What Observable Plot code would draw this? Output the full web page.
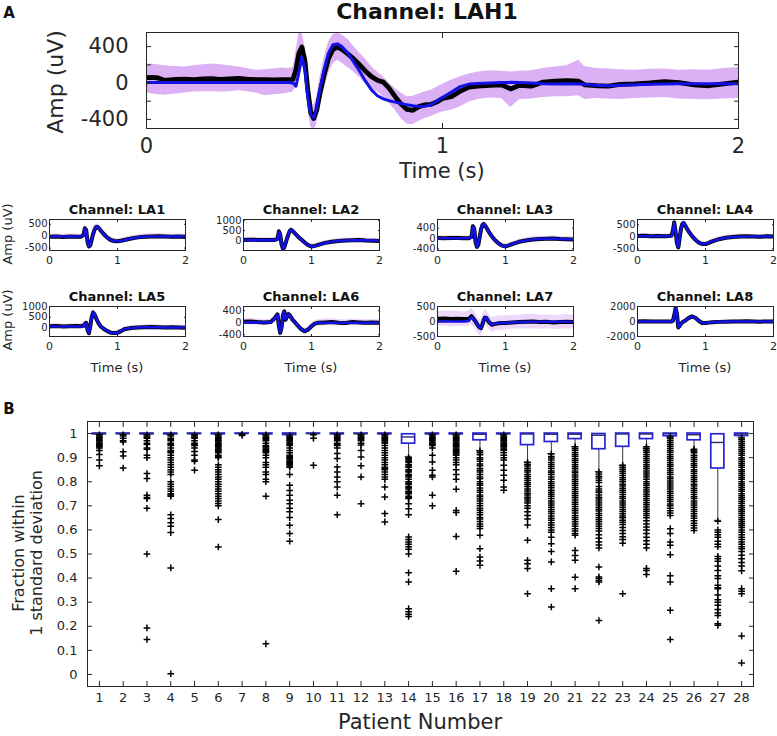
<!DOCTYPE html>
<html><head><meta charset="utf-8">
<script src="https://cdn.jsdelivr.net/npm/d3@7"></script>
<script src="https://cdn.jsdelivr.net/npm/@observablehq/plot@0.6"></script>
<style>
html,body{margin:0;padding:0;background:#fff;}
#fig{position:relative;width:777px;height:736px;overflow:hidden;background:#fff;font-family:"DejaVu Sans",sans-serif;color:#1a1a1a;}
.lbl{position:absolute;white-space:nowrap;line-height:1;}
#fig svg{position:absolute;}
</style></head><body><div id="fig"></div>
<script>
// ---------------- DATA: panel A, top channel ----------------
const topTitle = "Channel: LAH1";
const topTime = [0,0.02,0.04,0.06,0.08,0.1,0.13,0.16,0.19,0.22,0.25,0.28,0.31,0.34,0.37,0.4,0.43,0.46,0.48,0.495,0.505,0.515,0.525,0.535,0.545,0.555,0.565,0.575,0.585,0.6,0.615,0.63,0.645,0.66,0.68,0.7,0.72,0.74,0.76,0.78,0.8,0.82,0.84,0.86,0.88,0.9,0.92,0.94,0.96,0.98,1.0,1.03,1.06,1.09,1.12,1.16,1.2,1.23,1.26,1.3,1.34,1.38,1.42,1.46,1.48,1.52,1.56,1.6,1.65,1.7,1.75,1.8,1.85,1.9,1.95,2.0];
const topMean = [60,62,55,30,35,40,42,38,45,48,40,45,50,42,38,36,35,37,36,40,150,330,395,250,-80,-330,-390,-300,-130,90,270,370,395,370,320,265,200,130,70,30,10,-60,-150,-230,-290,-300,-260,-240,-235,-210,-170,-150,-90,-45,-35,-25,-20,-65,-25,-35,10,20,25,20,-20,-30,-35,-15,-10,0,15,5,-20,-30,-10,10];
const topFit = [5,5,5,5,5,5,5,5,5,5,5,5,5,5,5,5,5,5,5,0,-35,120,285,150,-150,-350,-380,-280,-80,150,330,420,430,400,330,230,130,20,-75,-140,-175,-195,-210,-225,-240,-250,-258,-255,-240,-200,-160,-100,-40,-12,-5,0,5,7,5,0,-8,-10,-8,-12,-15,-25,-30,-25,-20,-15,-10,-8,-8,-7,-7,-7];
const topUpper = [210,205,200,190,185,180,175,190,200,210,200,190,175,160,140,145,155,165,160,170,350,540,555,400,80,-180,-250,-150,40,270,450,530,550,530,480,400,330,260,180,120,70,0,-60,-110,-150,-145,-120,-100,-80,-50,-15,30,70,100,120,135,130,120,130,135,160,175,190,250,180,160,155,145,140,150,155,140,145,140,160,170];
const topLower = [-110,-120,-130,-135,-125,-120,-110,-100,-95,-95,-100,-95,-85,-95,-110,-140,-130,-120,-110,-100,-40,120,220,80,-250,-480,-520,-450,-280,-80,100,210,250,220,170,120,60,-10,-60,-100,-150,-220,-300,-390,-450,-460,-420,-390,-370,-340,-320,-300,-260,-210,-180,-165,-170,-270,-185,-175,-160,-150,-150,-140,-180,-170,-175,-180,-170,-165,-160,-175,-180,-185,-175,-170];
const topYDomain = [-500, 555];
const topYLabelTicks = [-400, 0, 400];
const topYTicks = [-400, -200, 0, 200, 400];
const timeTicks = [0, 1, 2];

// ---------------- DATA: panel A, eight small channels ----------------
const smallTime = [0,0.1,0.2,0.3,0.4,0.46,0.5,0.52,0.54,0.56,0.58,0.6,0.62,0.64,0.66,0.68,0.7,0.72,0.75,0.8,0.85,0.9,0.95,1.0,1.05,1.1,1.2,1.3,1.4,1.5,1.6,1.7,1.8,1.9,2.0];
const channelNames = ["LA1","LA2","LA3","LA4","LA5","LA6","LA7","LA8"];
const la1Mean = [-20,-10,-30,-15,-20,-20,40,330,250,-250,-430,-380,-150,80,250,370,400,360,250,80,-60,-160,-200,-210,-190,-160,-100,-50,-20,-10,-5,-15,-20,-10,-30];
const la1Fit  = [-10,-10,-10,-10,-10,-10,20,300,260,-230,-420,-370,-140,90,260,380,410,370,250,70,-70,-160,-200,-210,-195,-165,-100,-50,-25,-15,-10,-10,-10,-10,-10];
const la1Sd   = [110,110,120,110,110,110,130,150,150,150,150,140,140,140,140,140,130,130,120,120,110,110,110,110,110,110,110,110,120,130,120,110,110,110,110];
const la2Mean = [30,40,30,20,30,30,80,460,300,-200,-410,-350,-120,100,300,480,530,480,380,200,50,-100,-230,-300,-270,-220,-120,-60,-20,0,10,20,0,-10,-20];
const la2Fit  = [20,20,20,20,20,20,60,430,320,-180,-400,-340,-110,110,310,490,540,490,380,200,40,-110,-240,-300,-280,-230,-130,-60,-20,0,5,10,5,0,-10];
const la2Sd   = [120,120,130,120,120,120,140,160,160,160,160,150,150,150,150,150,140,140,130,130,120,120,120,120,120,120,120,120,130,130,120,120,120,120,120];
const la3Mean = [20,10,15,20,10,10,60,480,380,-150,-330,-250,50,350,520,560,500,420,280,80,-80,-200,-280,-310,-270,-220,-130,-80,-40,-20,-10,0,-20,-30,-40];
const la3Fit  = [10,10,10,10,10,10,40,450,400,-120,-320,-240,60,360,530,570,510,420,270,70,-90,-210,-290,-300,-270,-220,-130,-80,-40,-20,-10,-10,-20,-30,-30];
const la3Sd   = [90,90,100,90,90,90,110,130,130,130,130,120,120,120,120,120,110,110,100,100,100,100,100,100,100,100,100,110,120,120,100,100,100,100,100];
const la4Mean = [30,40,20,30,20,30,50,250,600,200,-250,-440,-50,350,540,570,480,380,230,40,-120,-240,-300,-300,-250,-190,-100,-40,-10,10,20,10,0,20,10];
const la4Fit  = [20,20,20,20,20,20,30,230,580,220,-240,-430,-40,360,550,580,490,380,230,40,-120,-240,-300,-290,-250,-190,-100,-40,-10,0,10,10,10,10,10];
const la4Sd   = [100,100,110,100,100,100,120,140,140,140,140,130,130,130,130,130,120,120,110,110,100,100,100,100,100,100,100,100,110,110,100,100,100,100,100];
const la5Mean = [80,90,70,80,90,80,100,180,240,-100,-240,100,500,720,650,500,350,220,80,-50,-150,-220,-240,-230,-150,-60,0,20,30,40,30,20,30,20,10];
const la5Fit  = [70,70,70,70,70,70,80,170,230,-90,-230,110,510,730,660,500,350,220,80,-50,-150,-220,-240,-230,-150,-60,0,20,30,30,30,20,20,20,20];
const la5Sd   = [110,110,110,110,110,110,130,150,150,150,150,150,150,150,150,140,140,130,120,120,110,110,110,110,110,110,110,110,110,120,110,110,110,110,110];
const la6Mean = [30,40,20,10,20,150,280,-100,-340,-150,250,375,100,200,285,250,180,100,30,-100,-220,-285,-230,-120,-30,0,10,20,0,-10,20,10,0,10,0];
const la6Fit  = [10,10,10,10,10,130,270,-90,-330,-140,260,370,110,210,280,250,180,100,30,-100,-220,-280,-230,-120,-30,0,0,0,0,0,0,0,0,0,0];
const la6Sd   = [100,110,100,100,100,110,120,130,130,130,130,130,120,120,120,120,110,110,100,100,100,100,100,100,100,100,110,120,110,100,100,100,100,100,100];
const la7Mean = [90,100,80,90,80,90,180,120,60,0,-80,-150,-200,-220,-100,50,130,120,0,-110,-80,-60,-50,-50,-40,-30,-20,-10,0,-20,-10,-30,-20,-10,-20];
const la7Fit  = [0,0,0,0,0,20,150,100,50,0,-80,-150,-200,-230,-110,40,120,130,10,-100,-70,-55,-50,-45,-40,-30,-20,-15,-10,-10,-10,-10,-10,-10,-10];
const la7Sd   = [240,250,260,250,240,250,260,270,270,270,270,270,270,270,270,260,260,250,250,250,240,240,240,230,230,230,230,240,250,240,230,230,240,240,230];
const la8Mean = [0,20,-10,0,10,0,0,100,800,1800,1000,-800,-600,-300,-100,0,100,250,450,680,500,100,-200,-200,-150,-100,-50,-20,0,0,20,0,-20,0,10];
const la8Fit  = [0,0,0,0,0,0,0,80,760,1750,1050,-780,-600,-300,-100,0,100,250,450,670,500,100,-200,-200,-150,-100,-50,-20,0,0,0,0,0,0,0];
const la8Sd   = [200,200,210,200,200,200,220,260,260,260,260,250,250,250,240,240,230,230,220,220,210,210,210,200,200,200,200,200,210,210,200,200,200,200,200];
const smallYDomains = [[-600,700],[-500,1050],[-470,740],[-570,720],[-400,1000],[-460,540],[-500,500],[-2000,2000]];
const smallYTicks = [[-500,0,500],[0,500,1000],[-400,0,400],[-500,0,500],[0,500,1000],[-400,0,400],[-500,0,500],[-2000,0,2000]];

// ---------------- DATA: panel B, box plots ----------------
const patients = [1,2,3,4,5,6,7,8,9,10,11,12,13,14,15,16,17,18,19,20,21,22,23,24,25,26,27,28];
const boxQ1     = [0.997,0.998,0.997,0.997,0.998,0.997,0.999,0.997,0.994,0.999,0.997,0.998,0.997,0.958,0.997,0.997,0.972,0.997,0.952,0.965,0.977,0.935,0.945,0.977,0.989,0.972,0.855,0.99];
const boxMedian = [1,1,1,1,1,1,1,1,1,1,1,1,1,0.986,1,1,0.997,1,0.998,0.997,0.997,0.993,0.998,0.998,0.999,0.995,0.963,0.998];
const boxQ3     = [1,1,1,1,1,1,1,1,1,1,1,1,1,0.997,1,1,1,1,1,1,1,0.998,1,1,1,1,0.997,1];
const whiskerLow  = [0.996,0.997,0.996,0.996,0.997,0.996,0.998,0.996,0.992,0.998,0.996,0.997,0.996,0.905,0.996,0.996,0.93,0.996,0.882,0.917,0.945,0.842,0.868,0.94,0.985,0.93,0.64,0.985];
const whiskerHigh = [1,1,1,1,1,1,1,1,1,1,1,1,1,1,1,1,1,1,1,1,1,1,1,1,1,1,1,1];
const outlierValues = [
  [0.995,0.99,0.985,0.98,0.975,0.97,0.965,0.96,0.955,0.95,0.945,0.94,0.93,0.913,0.89,0.866],
  [0.995,0.99,0.98,0.97,0.965,0.924,0.907,0.857],
  [0.995,0.99,0.985,0.98,0.97,0.96,0.955,0.94,0.935,0.91,0.9,0.834,0.813,0.744,0.735,0.73,0.69,0.5,0.193,0.145],
  [0.995,0.99,0.98,0.975,0.97,0.96,0.955,0.95,0.94,0.93,0.925,0.92,0.91,0.9,0.89,0.88,0.87,0.86,0.85,0.84,0.83,0.8,0.79,0.78,0.77,0.76,0.75,0.745,0.74,0.663,0.647,0.63,0.615,0.589,0.442,0.003],
  [0.995,0.99,0.985,0.98,0.97,0.96,0.955,0.95,0.94,0.925,0.91,0.89,0.885,0.848],
  [0.995,0.99,0.985,0.98,0.975,0.97,0.965,0.96,0.955,0.95,0.945,0.94,0.935,0.93,0.925,0.92,0.91,0.905,0.9,0.87,0.86,0.85,0.84,0.83,0.82,0.81,0.8,0.79,0.78,0.77,0.76,0.75,0.74,0.73,0.72,0.71,0.7,0.643,0.529],
  [0.997,0.992],
  [0.995,0.99,0.985,0.98,0.975,0.97,0.96,0.95,0.945,0.94,0.935,0.93,0.925,0.92,0.91,0.9,0.88,0.87,0.86,0.84,0.83,0.81,0.8,0.74,0.127],
  [0.99,0.985,0.98,0.975,0.97,0.965,0.96,0.955,0.95,0.94,0.93,0.92,0.91,0.905,0.9,0.895,0.89,0.885,0.88,0.875,0.87,0.865,0.86,0.83,0.785,0.764,0.744,0.723,0.709,0.69,0.675,0.651,0.619,0.585,0.553],
  [0.995,0.98,0.868],
  [0.995,0.99,0.985,0.98,0.975,0.97,0.96,0.955,0.95,0.94,0.917,0.896,0.861,0.84,0.82,0.8,0.778,0.744,0.663],
  [0.995,0.99,0.985,0.98,0.975,0.97,0.96,0.952,0.93,0.903,0.866,0.82,0.709],
  [0.995,0.99,0.985,0.98,0.975,0.97,0.965,0.96,0.95,0.94,0.93,0.92,0.91,0.9,0.89,0.88,0.87,0.86,0.855,0.85,0.84,0.83,0.82,0.81,0.778,0.737,0.668,0.633],
  [0.9,0.895,0.89,0.885,0.88,0.87,0.865,0.86,0.85,0.845,0.84,0.83,0.825,0.82,0.81,0.8,0.795,0.79,0.78,0.775,0.77,0.76,0.755,0.75,0.74,0.735,0.73,0.709,0.688,0.663,0.571,0.56,0.55,0.54,0.53,0.52,0.5,0.422,0.384,0.273,0.26,0.25,0.241],
  [0.995,0.99,0.985,0.98,0.975,0.97,0.965,0.96,0.955,0.95,0.94,0.91,0.882,0.848,0.827,0.82,0.744,0.7],
  [0.995,0.99,0.985,0.98,0.975,0.97,0.965,0.96,0.955,0.95,0.945,0.94,0.935,0.93,0.925,0.92,0.915,0.91,0.9,0.89,0.88,0.87,0.85,0.83,0.81,0.769,0.681,0.672,0.573,0.428],
  [0.928,0.92,0.912,0.9,0.893,0.885,0.874,0.866,0.855,0.848,0.84,0.83,0.82,0.812,0.8,0.792,0.785,0.774,0.765,0.756,0.745,0.738,0.728,0.72,0.71,0.7,0.69,0.682,0.672,0.663,0.652,0.645,0.635,0.625,0.615,0.606,0.578,0.522,0.488,0.471,0.453],
  [0.995,0.99,0.985,0.98,0.975,0.97,0.965,0.96,0.955,0.95,0.945,0.94,0.935,0.93,0.92,0.91,0.9,0.89,0.868,0.848,0.827,0.806,0.778,0.765],
  [0.88,0.872,0.865,0.856,0.848,0.84,0.83,0.822,0.813,0.805,0.796,0.788,0.78,0.77,0.762,0.752,0.745,0.736,0.728,0.72,0.712,0.7,0.69,0.675,0.66,0.645,0.62,0.557,0.474,0.46,0.44,0.335],
  [0.915,0.905,0.898,0.89,0.88,0.872,0.863,0.855,0.845,0.838,0.83,0.82,0.81,0.8,0.792,0.783,0.775,0.765,0.756,0.748,0.74,0.73,0.72,0.712,0.703,0.694,0.685,0.676,0.668,0.658,0.648,0.64,0.63,0.62,0.61,0.6,0.59,0.57,0.543,0.51,0.467,0.356,0.28],
  [0.945,0.937,0.93,0.92,0.912,0.905,0.895,0.888,0.88,0.87,0.862,0.854,0.845,0.837,0.828,0.82,0.81,0.802,0.794,0.785,0.776,0.768,0.758,0.75,0.742,0.733,0.724,0.715,0.706,0.697,0.688,0.68,0.67,0.66,0.652,0.643,0.634,0.625,0.615,0.605,0.595,0.585,0.578,0.515,0.494,0.474,0.404,0.356],
  [0.84,0.832,0.823,0.815,0.806,0.797,0.78,0.77,0.762,0.755,0.745,0.736,0.728,0.72,0.712,0.703,0.694,0.686,0.678,0.668,0.66,0.65,0.642,0.634,0.625,0.615,0.606,0.595,0.58,0.565,0.55,0.537,0.525,0.446,0.405,0.398,0.39,0.384,0.224],
  [0.868,0.86,0.852,0.843,0.835,0.826,0.817,0.808,0.8,0.79,0.782,0.773,0.765,0.756,0.747,0.738,0.73,0.72,0.712,0.703,0.694,0.685,0.676,0.667,0.658,0.65,0.64,0.632,0.622,0.61,0.598,0.585,0.572,0.56,0.545,0.335],
  [0.945,0.937,0.93,0.922,0.913,0.905,0.896,0.888,0.88,0.87,0.862,0.854,0.845,0.836,0.828,0.82,0.81,0.8,0.792,0.784,0.775,0.766,0.757,0.748,0.74,0.73,0.722,0.713,0.704,0.695,0.686,0.677,0.668,0.66,0.65,0.638,0.625,0.612,0.6,0.585,0.57,0.555,0.54,0.525,0.44,0.432,0.415],
  [0.986,0.978,0.97,0.962,0.954,0.946,0.938,0.93,0.922,0.913,0.905,0.897,0.889,0.88,0.872,0.864,0.855,0.847,0.838,0.83,0.82,0.812,0.803,0.795,0.786,0.778,0.77,0.76,0.752,0.743,0.735,0.726,0.718,0.708,0.7,0.69,0.68,0.67,0.66,0.605,0.585,0.55,0.536,0.497,0.41,0.384,0.266,0.145],
  [0.935,0.927,0.92,0.91,0.902,0.893,0.885,0.876,0.868,0.86,0.85,0.842,0.834,0.825,0.816,0.808,0.8,0.79,0.782,0.773,0.765,0.756,0.747,0.738,0.73,0.72,0.712,0.703,0.694,0.685,0.676,0.667,0.658,0.648,0.638,0.628,0.618,0.608,0.598],
  [0.636,0.6,0.59,0.58,0.57,0.553,0.54,0.53,0.49,0.48,0.47,0.45,0.432,0.41,0.398,0.37,0.36,0.356,0.33,0.31,0.3,0.287,0.27,0.255,0.245,0.21,0.204],
  [0.982,0.974,0.966,0.958,0.95,0.942,0.934,0.926,0.918,0.91,0.9,0.892,0.884,0.876,0.868,0.86,0.85,0.842,0.834,0.826,0.818,0.81,0.8,0.792,0.784,0.776,0.768,0.76,0.75,0.742,0.734,0.726,0.718,0.71,0.7,0.692,0.684,0.676,0.668,0.66,0.65,0.642,0.634,0.626,0.618,0.61,0.6,0.59,0.58,0.57,0.56,0.55,0.54,0.53,0.522,0.51,0.495,0.48,0.465,0.45,0.43,0.356,0.345,0.335,0.16,0.048]
];
const fractionTicks = [0,0.1,0.2,0.3,0.4,0.5,0.6,0.7,0.8,0.9,1];

// ---------------- RENDER ----------------
const fig = document.getElementById("fig");
const TEXT = "#262626";
const BAND = "#dcb0f5";
const BLUE = "#1212e6";
const BOXBLUE = "#2424d8";
const fmt = d => String(d);
const blank = () => "";

function addLabel(text, cx, cy, size, opt = {}) {
  const d = document.createElement("div");
  d.className = "lbl";
  d.textContent = text;
  d.style.left = cx + "px";
  d.style.top = cy + "px";
  d.style.fontSize = size + "px";
  d.style.fontWeight = opt.bold ? "bold" : "normal";
  d.style.color = opt.color || "#111";
  d.style.transform = "translate(-50%,-50%)" + (opt.rotate ? " rotate(-90deg)" : "");
  fig.appendChild(d);
}
function place(svg, left, top) {
  svg.style.left = left + "px";
  svg.style.top = top + "px";
  fig.appendChild(svg);
}
function frameAxes({xTicks, xLabels, yTicks, yLabels, xFont, yFont, tick, xPad, yPad}) {
  return [
    Plot.axisX(xTicks, {anchor: "bottom", tickSize: -tick, tickFormat: blank, label: null}),
    Plot.axisX(xTicks, {anchor: "top", tickSize: -tick, tickFormat: blank, label: null}),
    Plot.axisY(yTicks, {anchor: "left", tickSize: -tick, tickFormat: blank, label: null}),
    Plot.axisY(yTicks, {anchor: "right", tickSize: -tick, tickFormat: blank, label: null}),
    Plot.axisX(xLabels, {anchor: "bottom", tickSize: 0, tickPadding: xPad, label: null, fontSize: xFont, tickFormat: fmt}),
    Plot.axisY(yLabels, {anchor: "left", tickSize: 0, tickPadding: yPad, label: null, fontSize: yFont, tickFormat: fmt})
  ];
}
const baseStyle = {fontFamily: "DejaVu Sans, sans-serif", color: TEXT, background: "transparent", overflow: "visible"};

// --- top panel ---
const topPlot = Plot.plot({
  width: 777, height: 190,
  marginLeft: 146, marginRight: 39, marginTop: 32, marginBottom: 62,
  style: baseStyle,
  x: {domain: [0, 2]},
  y: {domain: topYDomain},
  marks: [
    Plot.areaY(topTime, {x: d => d, y1: topLower, y2: topUpper, fill: BAND, clip: true}),
    Plot.line(topTime, {x: d => d, y: topMean, stroke: "black", strokeWidth: 4.8, clip: true}),
    Plot.line(topTime, {x: d => d, y: topFit, stroke: BLUE, strokeWidth: 3, clip: true}),
    Plot.frame({stroke: TEXT}),
    ...frameAxes({xTicks: timeTicks, xLabels: timeTicks, yTicks: topYTicks, yLabels: topYLabelTicks, xFont: 21, yFont: 21, tick: 5, xPad: 10, yPad: 18})
  ]
});
place(topPlot, 0, 0);
addLabel("A", 9, 13, 15, {bold: true});
addLabel(topTitle, 427, 12, 22, {bold: true});
addLabel("Amp (uV)", 56, 82, 22, {rotate: true, color: TEXT});
addLabel("Time (s)", 442, 171, 21, {color: TEXT});

// --- small panels ---
const smallMeans = [la1Mean, la2Mean, la3Mean, la4Mean, la5Mean, la6Mean, la7Mean, la8Mean];
const smallFits = [la1Fit, la2Fit, la3Fit, la4Fit, la5Fit, la6Fit, la7Fit, la8Fit];
const smallSds = [la1Sd, la2Sd, la3Sd, la4Sd, la5Sd, la6Sd, la7Sd, la8Sd];
const colX = [49, 243, 437, 637];
const rowY = [219, 306];
const rowH = [31, 30];
const W = 136;
channelNames.forEach((name, i) => {
  const c = i % 4, r = Math.floor(i / 4);
  const mean = smallMeans[i], sd = smallSds[i];
  const lower = mean.map((m, k) => m - sd[k]);
  const upper = mean.map((m, k) => m + sd[k]);
  const p = Plot.plot({
    width: 42 + W + 6, height: 4 + rowH[r] + 20,
    marginLeft: 42, marginRight: 6, marginTop: 4, marginBottom: 20,
    style: baseStyle,
    x: {domain: [0, 2]},
    y: {domain: smallYDomains[i]},
    marks: [
      Plot.areaY(smallTime, {x: d => d, y1: lower, y2: upper, fill: BAND, fillOpacity: 0.5, clip: true}),
      Plot.line(smallTime, {x: d => d, y: mean, stroke: "black", strokeWidth: 4, clip: true}),
      Plot.line(smallTime, {x: d => d, y: smallFits[i], stroke: BLUE, strokeWidth: 2.6, clip: true}),
      Plot.frame({stroke: TEXT}),
      ...frameAxes({xTicks: timeTicks, xLabels: timeTicks, yTicks: smallYTicks[i], yLabels: smallYTicks[i], xFont: 11, yFont: 10, tick: 2, xPad: 6, yPad: 2})
    ]
  });
  place(p, colX[c] - 42, rowY[r] - 4);
  addLabel("Channel: " + name, colX[c] + W / 2, rowY[r] - 10, 13, {bold: true});
  if (r === 1) addLabel("Time (s)", colX[c] + W / 2, 367, 13, {color: TEXT});
});
addLabel("Amp (uV)", 7, 234, 13, {rotate: true, color: TEXT});
addLabel("Amp (uV)", 7, 320, 13, {rotate: true, color: TEXT});

// --- panel B ---
const boxRows = patients.map((p, i) => ({p, q1: boxQ1[i], med: boxMedian[i], q3: boxQ3[i], lo: whiskerLow[i], hi: whiskerHigh[i]}));
const outlierPoints = patients.flatMap((p, i) => outlierValues[i].map(v => ({p, v})));
const boxPlot = Plot.plot({
  width: 777, height: 336,
  marginLeft: 87, marginRight: 24, marginTop: 21, marginBottom: 50,
  style: baseStyle,
  x: {type: "band", domain: patients, paddingInner: 0.45, paddingOuter: 0.225, round: false},
  y: {domain: [-0.05, 1.05]},
  marks: [
    Plot.ruleX(boxRows, {x: "p", y1: "lo", y2: "q1", stroke: "#222", strokeWidth: 0.9}),
    Plot.ruleX(boxRows, {x: "p", y1: "q3", y2: "hi", stroke: "#222", strokeWidth: 0.9}),
    Plot.tickY(boxRows, {x: "p", y: "lo", stroke: "#222", strokeWidth: 0.9, insetLeft: 3, insetRight: 3}),
    Plot.barY(boxRows, {x: "p", y1: "q1", y2: "q3", fill: "white", stroke: BOXBLUE, strokeWidth: 1.7}),
    Plot.tickY(boxRows, {x: "p", y: "med", stroke: "#2a2a70", strokeWidth: 1.4}),
    Plot.dot(outlierPoints, {x: "p", y: "v", symbol: "plus", r: 2.3, stroke: "black", strokeWidth: 1.5}),
    Plot.frame({stroke: TEXT}),
    ...frameAxes({xTicks: patients, xLabels: patients, yTicks: fractionTicks, yLabels: fractionTicks, xFont: 13, yFont: 13, tick: 5, xPad: 6, yPad: 10})
  ]
});
place(boxPlot, 0, 400);
addLabel("B", 9, 409, 15, {bold: true});
addLabel("Fraction within", 19, 553, 16, {rotate: true, color: TEXT});
addLabel("1 standard deviation", 37, 553, 16, {rotate: true, color: TEXT});
addLabel("Patient Number", 420, 722, 21, {color: TEXT});
</script></body></html>
